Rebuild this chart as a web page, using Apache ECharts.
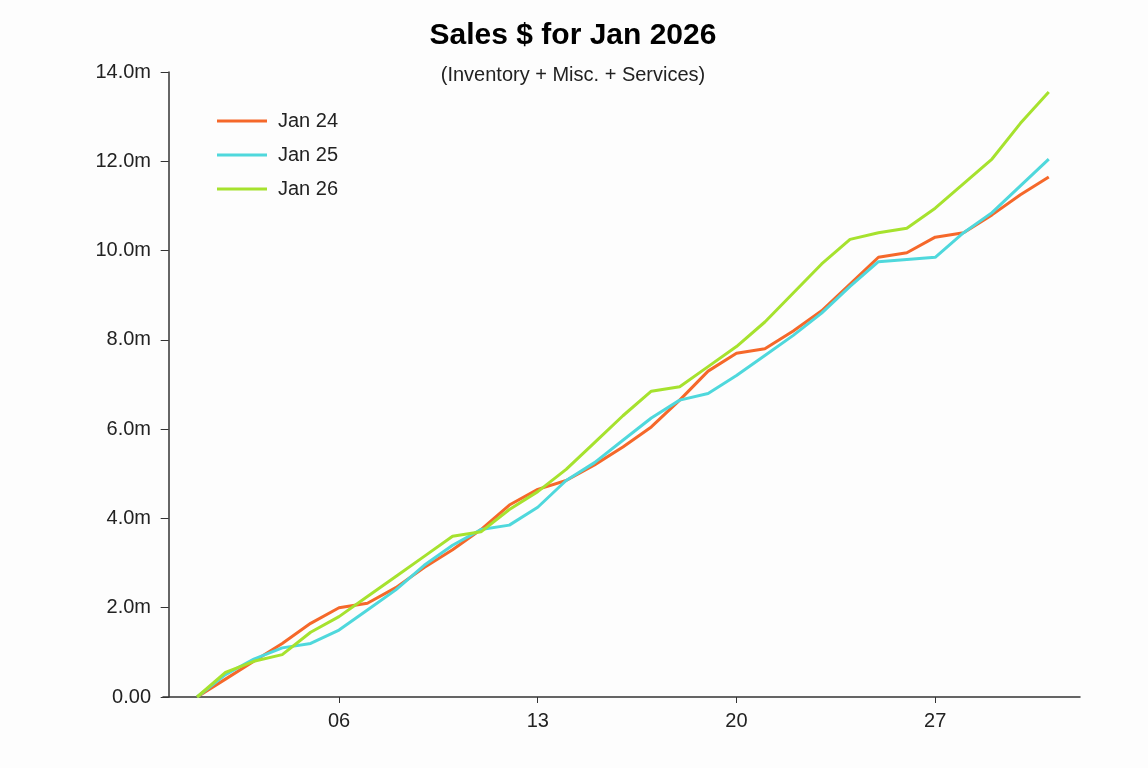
<!DOCTYPE html>
<html><head><meta charset="utf-8">
<script src="https://cdn.jsdelivr.net/npm/echarts@6/dist/echarts.min.js"></script>
<style>html,body{margin:0;background:#fdfdfd}#c{width:1148px;height:768px}</style>
</head><body><div id="c"></div>
<script>
const days = Array.from({length:31},(_,i)=>i+1);
const jan24 = [0,0.4,0.8,1.2,1.65,2.0,2.1,2.45,2.9,3.3,3.75,4.3,4.65,4.85,5.2,5.6,6.05,6.65,7.3,7.7,7.8,8.2,8.65,9.25,9.85,9.95,10.3,10.4,10.8,11.25,11.65];
const jan25 = [0,0.5,0.85,1.1,1.2,1.5,1.95,2.4,2.95,3.4,3.75,3.85,4.25,4.85,5.25,5.75,6.25,6.65,6.8,7.2,7.65,8.1,8.6,9.2,9.75,9.8,9.85,10.4,10.85,11.45,12.05];
const jan26 = [0,0.55,0.8,0.95,1.45,1.8,2.25,2.7,3.15,3.6,3.7,4.2,4.6,5.1,5.7,6.3,6.85,6.95,7.4,7.85,8.4,9.05,9.7,10.25,10.4,10.5,10.95,11.5,12.05,12.85,13.55];
const xTicks = [6,13,20,27];
const mk = (name, arr, color) => ({name, type:'line', data: days.map((d,i)=>[d, arr[i]*1e6]), symbol:'none', lineStyle:{width:3,color}, itemStyle:{color}});
const font = 'Liberation Sans, Arial, sans-serif';
echarts.init(document.getElementById('c')).setOption({
  backgroundColor:'#fdfdfd',
  textStyle:{fontFamily:font},
  title:{text:'Sales $ for Jan 2026', subtext:'(Inventory + Misc. + Services)', left:568, textAlign:'center', top:16,
    textStyle:{fontSize:30,fontWeight:'bold',color:'#000',fontFamily:font},
    subtextStyle:{fontSize:20,color:'#222',fontFamily:font}, itemGap:14},
  legend:{orient:'vertical', left:212, top:106, itemWidth:50, itemHeight:3, itemGap:14, icon:'rect',
    textStyle:{fontSize:20,color:'#222',fontFamily:font,padding:[0,0,0,6]}},
  grid:{left:163, right:68, top:72, bottom:71, outerBoundsMode:'none'},
  xAxis:{type:'value', min:-0.2, max:32.1,
    axisLine:{lineStyle:{color:'#333',width:1.5}},
    axisTick:{customValues:xTicks,length:6,lineStyle:{color:'#333'}},
    axisLabel:{customValues:xTicks,fontSize:20,color:'#222',margin:14,formatter:v=>String(v).padStart(2,'0')},
    splitLine:{show:false}},
  yAxis:{type:'value', min:0, max:14e6, interval:2e6,
    axisLine:{show:true,lineStyle:{color:'#333',width:1.5}},
    axisTick:{show:true,length:8,lineStyle:{color:'#333'}},
    axisLabel:{fontSize:20,color:'#222',margin:12,formatter:v=>v===0?'0.00':(v/1e6).toFixed(1)+'m'},
    splitLine:{show:false}},
  series:[mk('Jan 24',jan24,'#f5682a'), mk('Jan 25',jan25,'#4fd8dc'), mk('Jan 26',jan26,'#a6e22e')]
});
</script></body></html>
